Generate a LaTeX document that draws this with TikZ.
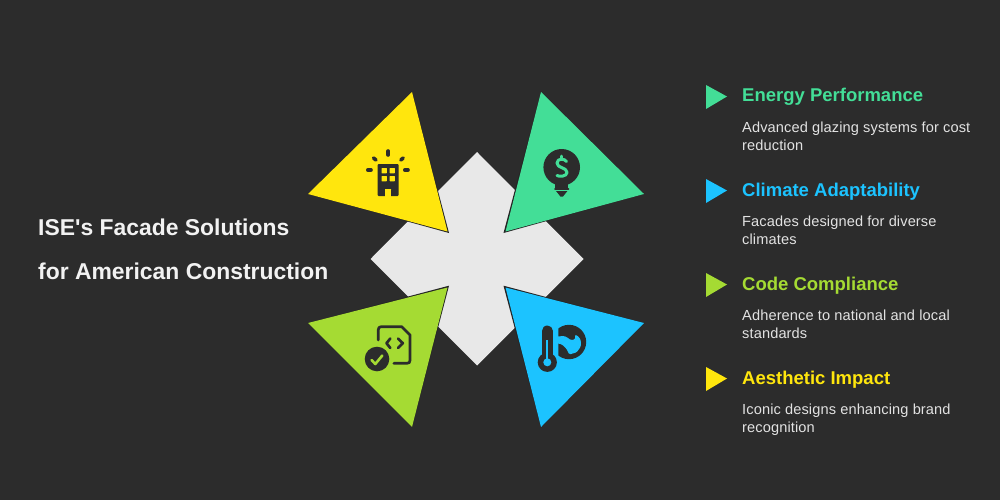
\documentclass[tikz,border=0pt]{standalone}
\usepackage{fontspec}
\setmainfont[Ligatures=TeXOff]{Liberation Sans}
\newfontface\bodyf[LetterSpace=0.8]{Liberation Sans}
\definecolor{bgc}{HTML}{2C2C2C}
\definecolor{ye}{HTML}{FFE60D}
\definecolor{gr}{HTML}{43DE97}
\definecolor{li}{HTML}{A5DB33}
\definecolor{bl}{HTML}{1CC3FF}
\definecolor{cen}{HTML}{E8E8E8}
\definecolor{bodyc}{HTML}{E2E2E2}
\definecolor{edgec}{HTML}{242424}
\tikzset{
 ttl/.style={anchor=base west,inner sep=0pt,text=white!95!black,font=\fontsize{22.9}{23}\selectfont\bfseries},
 hd/.style={anchor=base west,inner sep=0pt,font=\fontsize{18.5}{18.5}\selectfont\bfseries},
 bd/.style={anchor=base west,inner sep=0pt,text=bodyc,font=\bodyf\fontsize{14.6}{14.6}\selectfont},
 ic/.style={draw=bgc,line cap=round,line join=round},
}
\begin{document}
\begin{tikzpicture}[x=1pt,y=-1pt]
\fill[bgc] (0,0) rectangle (1000,500);
\useasboundingbox (0,0) rectangle (1000,500);
% centre
\fill[cen] (477,152) -- (583.5,259) -- (477,365.5) -- (370.5,259) -- cycle;
% triangles with thin dark inner edges
\fill[edgec] (412,91.5) -- (449,233) -- (308,194) -- cycle;
\fill[ye] (412,92) -- (447.5,231.5) -- (308,194) -- cycle;
\fill[edgec] (541,91.5) -- (503.5,233) -- (644,194) -- cycle;
\fill[gr] (541,92) -- (505.5,231.5) -- (644,194) -- cycle;
\fill[edgec] (308,323) -- (449,285.7) -- (412,427.5) -- cycle;
\fill[li] (308,323) -- (447.5,287.5) -- (412,427) -- cycle;
\fill[edgec] (644,323) -- (503.5,285.7) -- (541,427.5) -- cycle;
\fill[bl] (644,323) -- (505.5,287.5) -- (541,427) -- cycle;
% building icon
\fill[bgc,rounded corners=1.2] (377.5,164) rectangle (398.7,196);
\fill[ye,rounded corners=.5] (381.5,168) rectangle (386.8,173.3);
\fill[ye,rounded corners=.5] (389.6,168) rectangle (394.9,173.3);
\fill[ye,rounded corners=.5] (381.5,176) rectangle (386.8,181.3);
\fill[ye,rounded corners=.5] (389.6,176) rectangle (394.9,181.3);
\fill[ye] (385,189) rectangle (391.2,196.5);
\fill[ye] (385,189) arc[start angle=180,end angle=0,radius=3.1] -- cycle;
\draw[ic,line width=3.6] (388.2,151) -- (388.2,155);
\draw[ic,line width=3.6] (373.5,158) -- (376,160);
\draw[ic,line width=3.6] (403.2,158) -- (400.8,160);
\draw[ic,line width=3.6] (367.8,170) -- (371,170);
\draw[ic,line width=3.6] (404.8,170) -- (408,170);
% bulb-dollar icon
\fill[bgc] (561.7,167.3) circle (18.3);
\fill[bgc] (555,180) -- (568.4,180) -- (568.4,189) -- (555,189) -- cycle;
\draw[bgc,line width=2,line cap=round] (555,188.5) -- (568.4,188.5);
\fill[bgc] (556,191) -- (567.4,191) -- (563,196.5) -- (560.4,196.5) -- cycle;
\draw[gr,line width=3,line cap=round,line join=round]
  (566.5,161.5) .. controls (565,158.5) and (557,158) .. (557,163)
  .. controls (557,168.5) and (567,167) .. (567,172.5)
  .. controls (567,176.5) and (559,177) .. (557,175.5);
\draw[gr,line width=2.8,line cap=round] (561.7,156) -- (561.7,158);
% document-check icon
\draw[ic,line width=2.7] (378.3,340) -- (378.3,329.7) .. controls (378.3,327.7) and (379.3,326.7) .. (381.3,326.7)
  -- (401.7,326.7) -- (410,335) -- (410,360.3) .. controls (410,362.3) and (409,363.3) .. (407,363.3) -- (393.8,363.3);
\draw[ic,line width=2.7] (390.3,338.5) -- (386.5,343.2) -- (390.3,348);
\draw[ic,line width=2.7] (398,338.5) -- (402.8,343.2) -- (398,348);
\fill[bgc] (377,359) circle (12.3);
\draw[li,line width=2.6,line cap=round,line join=round] (371.5,360) -- (375.3,364) -- (382.3,355.5);
% thermometer-globe icon
\draw[bgc,line width=11,line cap=round] (547.3,331) -- (547.3,356);
\fill[bgc] (547.3,362.3) circle (9.6);
\fill[bl] (546.2,340) rectangle (548.4,362);
\fill[bl] (547.3,362.3) circle (4);
\begin{scope}
\clip (558.3,320) rectangle (590,365);
\fill[bgc] (569,342) circle (17.2);
\end{scope}
\fill[bl,rounded corners=1.2] (557,336.5) -- (564,336) -- (566.5,337) -- (570.7,340) -- (575,339.5) -- (575,334.5) -- (579,337) -- (581,341)
  -- (580.7,346.7) -- (576.7,352.3) -- (569.3,354.5) -- (566.3,348.5) -- (561.7,344.3) -- (557,343.3) -- cycle;
% left title
\node[ttl] (t1) at (38,235) {ISE's Facade Solutions};
\node[ttl] (t2) at (38,279) {for American Construction};
% list
\fill[gr] (706,85) -- (727,96.5) -- (706,109) -- cycle;
\fill[bl] (706,179) -- (727,190.5) -- (706,203) -- cycle;
\fill[li] (706,273) -- (727,284.5) -- (706,297) -- cycle;
\fill[ye] (706,367) -- (727,378.5) -- (706,391) -- cycle;
\node[hd,text=gr] (h1) at (742,102) {Energy Performance};
\node[bd] (b1a) at (742,132.5) {Advanced glazing systems for cost};
\node[bd] (b1b) at (742,150) {reduction};
\node[hd,text=bl] (h2) at (742,196) {Climate Adaptability};
\node[bd] (b2a) at (742,226.5) {Facades designed for diverse};
\node[bd] (b2b) at (742,244) {climates};
\node[hd,text=li] (h3) at (742,290) {Code Compliance};
\node[bd] (b3a) at (742,320.5) {Adherence to national and local};
\node[bd] (b3b) at (742,338) {standards};
\node[hd,text=ye] (h4) at (742,384) {Aesthetic Impact};
\node[bd] (b4a) at (742,414.5) {Iconic designs enhancing brand};
\node[bd] (b4b) at (742,432) {recognition};
\end{tikzpicture}
\end{document}
